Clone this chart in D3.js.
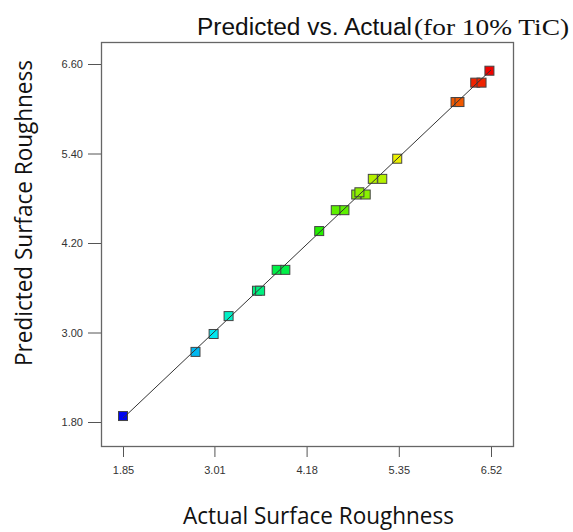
<!DOCTYPE html>
<html lang="en">
<head>
  <meta charset="UTF-8">
  <script src="https://cdn.jsdelivr.net/npm/d3@7"></script>
  <title>Predicted vs. Actual</title>
  <style>
    body { margin: 0; background: #fff; }
    svg { display: block; }
    .axis text { font-family: "Liberation Sans", Arial, sans-serif; font-size: 11px; fill: #333; }
    .axis line { stroke: #555; }
    .axis path { display: none; }
    .lbl { font-family: "Open Sans", "Noto Sans", sans-serif; font-size: 24px; fill: #111; }
  </style>
</head>
<body>
<div id="chart"></div>
<script>
  // values
  var actual    = [1.85, 2.77, 3.00, 3.19, 3.55, 3.59, 3.80, 3.91, 4.34, 4.55, 4.66, 4.81, 4.93, 4.85, 5.02, 5.14, 5.33, 6.07, 6.12, 6.32, 6.40, 6.50];
  var predicted = [1.88, 2.74, 2.98, 3.22, 3.56, 3.56, 3.84, 3.84, 4.36, 4.64, 4.64, 4.85, 4.85, 4.88, 5.06, 5.06, 5.33, 6.09, 6.09, 6.35, 6.35, 6.51];
  var xTicks = [1.85, 3.01, 4.18, 5.35, 6.52];
  var yTicks = [1.80, 3.00, 4.20, 5.40, 6.60];

  var width = 573, height = 532;
  var frame = { left: 101, right: 513, top: 42, bottom: 446 };

  var svg = d3.select("#chart").append("svg")
    .attr("width", width)
    .attr("height", height);

  var xScale = d3.scaleLinear().domain([1.85, 6.52]).range([123, 491]);
  var yScale = d3.scaleLinear().domain([1.80, 6.60]).range([422, 64]);

  // colour by value, blue -> red
  var hue = d3.scaleLinear().domain([1.85, 6.52]).range([240, 0]).clamp(true);

  // plot frame
  svg.append("rect")
    .attr("x", frame.left + 0.5)
    .attr("y", frame.top + 0.5)
    .attr("width", frame.right - frame.left)
    .attr("height", frame.bottom - frame.top)
    .attr("fill", "none")
    .attr("stroke", "#666")
    .attr("stroke-width", 1.3);

  // axes
  svg.append("g")
    .attr("class", "axis")
    .attr("transform", "translate(0," + (frame.bottom + 1) + ")")
    .call(d3.axisBottom(xScale).tickValues(xTicks).tickFormat(d3.format(".2f")).tickSize(10).tickPadding(9));

  svg.append("g")
    .attr("class", "axis")
    .attr("transform", "translate(" + frame.left + ",0)")
    .call(d3.axisLeft(yScale).tickValues(yTicks).tickFormat(d3.format(".2f")).tickSize(13).tickPadding(5));

  var data = actual.map(function(a, i) { return { x: a, y: predicted[i] }; });

  // points
  var s = 9;
  svg.selectAll(".pt")
    .data(data)
    .enter()
    .append("rect")
    .attr("class", "pt")
    .attr("x", function(d) { return xScale(d.x) - s / 2; })
    .attr("y", function(d) { return yScale(d.y) - s / 2; })
    .attr("width", s)
    .attr("height", s)
    .attr("fill", function(d) { return d3.hsl(hue(d.y), 1, 0.47); })
    .attr("stroke", "#444")
    .attr("stroke-width", 1);

  // y = x reference line
  svg.append("line")
    .attr("x1", xScale(1.85)).attr("y1", yScale(1.85))
    .attr("x2", xScale(6.52)).attr("y2", yScale(6.52))
    .attr("stroke", "#333")
    .attr("stroke-width", 1);

  // title
  svg.append("text")
    .attr("x", 197)
    .attr("y", 35)
    .attr("textLength", 215)
    .attr("lengthAdjust", "spacingAndGlyphs")
    .style("font-family", "'Liberation Sans', Arial, sans-serif")
    .style("font-size", "23px")
    .style("fill", "#111")
    .text("Predicted vs. Actual");
  svg.append("text")
    .attr("x", 414)
    .attr("y", 35)
    .attr("textLength", 155)
    .attr("lengthAdjust", "spacingAndGlyphs")
    .style("font-family", "'Liberation Serif', 'Times New Roman', serif")
    .style("font-size", "23px")
    .style("fill", "#111")
    .text("(for 10% TiC)");

  // axis labels
  svg.append("text")
    .attr("class", "lbl")
    .attr("x", 183)
    .attr("y", 524)
    .attr("textLength", 271)
    .attr("lengthAdjust", "spacingAndGlyphs")
    .text("Actual Surface Roughness");

  svg.append("text")
    .attr("class", "lbl")
    .attr("transform", "translate(32,366) rotate(-90)")
    .attr("textLength", 306)
    .attr("lengthAdjust", "spacingAndGlyphs")
    .text("Predicted Surface Roughness");
</script>
</body>
</html>
